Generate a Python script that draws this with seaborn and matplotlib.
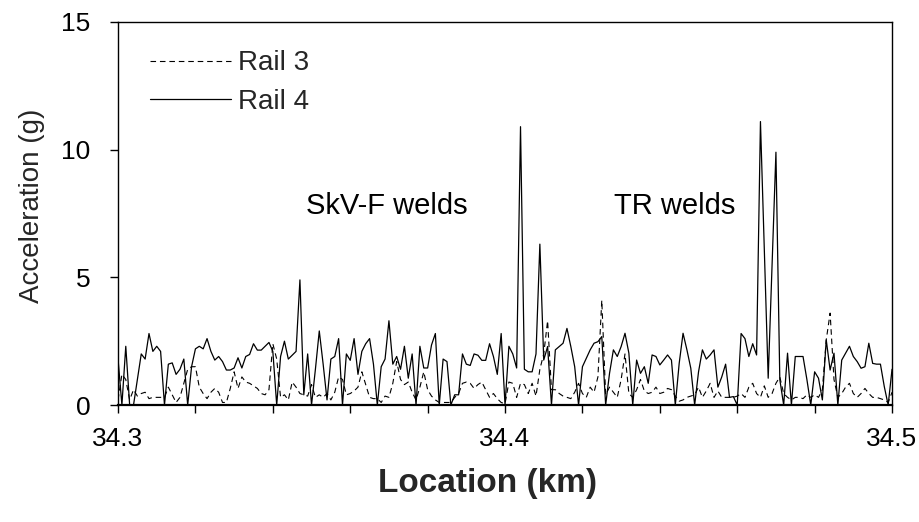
import numpy as np
import pandas as pd
import matplotlib
matplotlib.use("Agg")
import matplotlib.pyplot as plt
from matplotlib.ticker import MultipleLocator, FuncFormatter
import seaborn as sns

# Track location sampled every metre (km)
location = np.round(34.3 + 0.001 * np.arange(201), 3)

# Peak vertical acceleration of the axle box, rail 3 (g)
rail3 = [
    0.2, 1.2, 1.0, 0.2, 0.6, 0.35, 0.45, 0.5, 0.25, 0.3,
    0.3, 0.3, 0.3, 0.7, 0.4, 0.1, 0.3, 0.85, 1.4, 1.5,
    1.5, 0.7, 0.45, 0.25, 0.5, 0.65, 0.5, 0.1, 0.1, 0.65,
    1.3, 0.65, 1.1, 0.9, 0.85, 0.75, 0.65, 0.45, 0.4, 0.6,
    2.4, 1.8, 0.3, 0.4, 0.2, 0.9, 0.7, 0.45, 0.4, 0.35,
    0.8, 0.3, 0.4, 0.3, 0.45, 0.2, 0.5, 1.1, 1.0, 0.4,
    0.45, 0.55, 0.7, 1.3, 0.8, 0.3, 0.25, 0.25, 0.1, 0.35,
    0.3, 0.85, 1.7, 1.0, 0.8, 0.9, 0.5, 0.2, 0.7, 1.3,
    0.6, 0.35, 0.2, 0.1, 0.1, 0.1, 0.1, 0.3, 0.45, 0.85,
    0.9, 0.85, 0.65, 0.8, 0.9, 0.6, 0.3, 0.45, 0.25, 0.1,
    0.05, 0.9, 0.85, 0.3, 0.85, 0.8, 0.45, 0.85, 0.35, 1.4,
    2.0, 3.3, 0.6, 0.6, 0.45, 0.35, 0.3, 0.25, 0.5, 0.85,
    0.45, 0.3, 0.7, 0.5, 1.1, 4.1, 0.4, 0.7, 0.5, 0.3,
    1.0, 2.0, 0.45, 0.3, 0.6, 1.0, 0.55, 0.45, 0.5, 0.7,
    0.45, 0.5, 0.65, 0.6, 0.35, 0.15, 0.2, 0.3, 0.35, 0.4,
    0.7, 0.3, 0.55, 0.85, 0.3, 0.55, 0.3, 0.3, 0.3, 0.3,
    0.35, 0.45, 0.3, 0.7, 0.85, 0.45, 0.3, 0.75, 0.3, 0.45,
    0.85, 1.1, 0.45, 0.3, 0.2, 0.3, 0.3, 0.25, 0.4, 0.3,
    0.4, 0.3, 0.6, 2.55, 3.6, 1.0, 0.3, 0.45, 0.7, 0.85,
    0.45, 0.3, 0.45, 0.65, 0.45, 0.3, 0.3, 0.25, 0.2, 0.1,
    0.5,
]

# Peak vertical acceleration of the axle box, rail 4 (g)
rail4 = [
    1.8, 0.0, 2.3, 0.0, 0.0, 1.0, 2.0, 1.8, 2.8, 2.1,
    2.3, 2.1, 0.0, 1.6, 1.65, 1.2, 1.4, 1.8, 0.0, 1.5,
    2.2, 2.3, 2.2, 2.6, 2.1, 1.76, 1.9, 1.7, 1.37, 1.37,
    1.45, 1.85, 1.45, 1.9, 1.98, 2.4, 2.15, 2.15, 2.3, 2.45,
    2.1, 0.0, 1.9, 2.5, 1.8, 1.95, 2.1, 4.9, 0.4, 2.0,
    0.0, 1.4, 2.9, 1.6, 0.2, 1.8, 1.9, 2.6, 0.0, 2.0,
    1.75, 2.6, 1.2, 2.1, 2.4, 2.6, 1.6, 0.0, 1.5, 1.8,
    3.3, 1.6, 1.9, 1.4, 2.3, 1.05, 2.0, 0.0, 2.3, 1.45,
    1.45, 2.35, 2.8, 0.0, 1.8, 1.7, 0.0, 0.4, 0.4, 2.0,
    1.6, 1.55, 2.0, 1.95, 1.75, 1.75, 2.4, 1.9, 1.2, 2.8,
    0.0, 2.3, 2.0, 1.45, 10.9, 1.4, 1.3, 1.3, 2.0, 6.3,
    1.76, 2.29, 0.0, 2.16, 2.29, 2.42, 3.0, 2.29, 1.5, 0.0,
    1.5, 1.83, 2.16, 2.42, 2.48, 2.68, 0.0, 1.24, 2.16, 1.9,
    2.29, 2.81, 2.03, 0.0, 1.76, 1.24, 1.5, 0.85, 1.96, 1.9,
    1.57, 1.76, 1.96, 1.76, 0.0, 1.63, 2.81, 2.16, 1.44, 0.0,
    1.3, 2.16, 1.8, 1.96, 2.16, 0.7, 1.1, 1.6, 0.3, 0.33,
    0.0, 2.8, 2.6, 1.9, 2.4, 1.96, 11.1, 6.1, 1.05, 5.5,
    9.9, 1.0, 0.0, 2.03, 0.0, 1.9, 1.9, 1.9, 1.0, 0.0,
    1.3, 1.05, 0.2, 2.55, 1.37, 2.03, 0.0, 1.76, 2.03, 2.3,
    1.9, 1.7, 1.44, 1.5, 2.42, 1.63, 1.6, 1.6, 0.72, 0.0,
    1.4,
]

series_labels = ["Rail 3", "Rail 4"]
x_tick_labels = ["34.3", "34.4", "34.5"]
annotations = [("SkV-F welds", 34.3486, 7.8), ("TR welds", 34.4282, 7.8)]

sns.set_theme(style="white")
plt.rcParams["font.family"] = ["Liberation Sans", "DejaVu Sans"]

df = pd.DataFrame({"Location": location, "Rail 3": rail3, "Rail 4": rail4})

fig = plt.figure(figsize=(9.2, 5.22), dpi=100)
ax = fig.add_axes([0.1283, 0.2241, 0.8413, 0.7338])

sns.lineplot(data=df, x="Location", y="Rail 3", ax=ax, color="black",
             linewidth=0.8, label=series_labels[0])
ax.lines[-1].set_dashes([5, 3.5])
sns.lineplot(data=df, x="Location", y="Rail 4", ax=ax, color="black",
             linewidth=0.9, label=series_labels[1])

ax.set_xlim(34.3, 34.5)
ax.set_ylim(0, 15)
ax.xaxis.set_major_locator(MultipleLocator(0.02))


def fmt_x(v, _pos):
    lab = f"{v:.1f}"
    return lab if abs(v * 10 - round(v * 10)) < 1e-6 and lab in x_tick_labels else ""


ax.xaxis.set_major_formatter(FuncFormatter(fmt_x))
ax.yaxis.set_major_locator(MultipleLocator(5))

for side in ["left", "right", "top", "bottom"]:
    ax.spines[side].set_visible(True)
    ax.spines[side].set_color("black")
    ax.spines[side].set_linewidth(1.0)
ax.spines["bottom"].set_linewidth(1.6)

ax.tick_params(axis="both", which="major", direction="out", length=6,
               width=1.0, color="black", labelsize=19, labelcolor="black",
               bottom=True, left=True, top=False, right=False)
ax.tick_params(axis="x", pad=10)
ax.tick_params(axis="y", pad=14)

ax.set_xlabel("Location (km)", fontsize=24, fontweight="bold")
ax.xaxis.set_label_coords(0.477, -0.165)
ax.set_ylabel("Acceleration (g)", fontsize=20)
ax.yaxis.set_label_coords(-0.094, 0.52)

for text, xv, yv in annotations:
    ax.text(xv, yv, text, fontsize=21, ha="left", va="center", color="black")

leg = ax.legend(loc="upper left", bbox_to_anchor=(0.027, 0.955), frameon=False,
                fontsize=20, handlelength=2.9, handletextpad=0.25,
                labelspacing=0.45, borderaxespad=0.0)

fig.savefig("out.png", dpi=100, facecolor="white")
